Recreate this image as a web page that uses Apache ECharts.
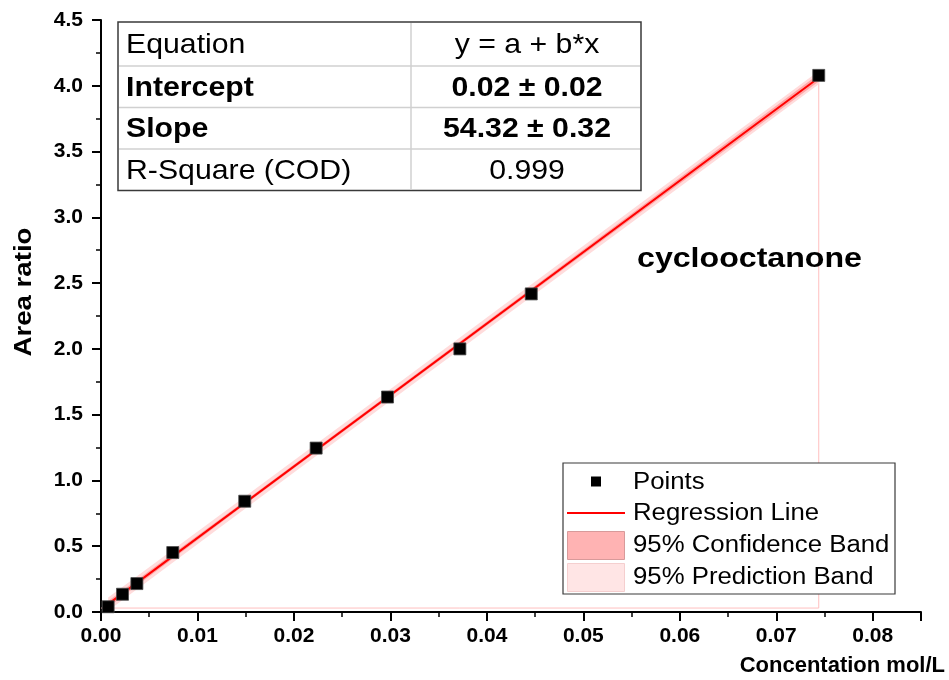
<!DOCTYPE html>
<html>
<head>
<meta charset="utf-8">
<script src="https://cdn.jsdelivr.net/npm/echarts@6/dist/echarts.min.js"></script>
<style>
  html, body { margin: 0; padding: 0; background: #ffffff; }
  #chart { width: 949px; height: 680px; }
</style>
</head>
<body>
<div id="chart"></div>
<script>
// Calibration points: concentration (mol/L) vs. peak area ratio
const concentration = [0.00074, 0.00223, 0.00372, 0.00744, 0.0149, 0.0223, 0.0297, 0.0372, 0.0446, 0.0744];
const areaRatio     = [0.04, 0.135, 0.216, 0.452, 0.842, 1.246, 1.634, 2.0, 2.418, 4.079];

// Linear fit y = a + b*x
const intercept = 0.02;
const slope = 54.32;

// Half-widths of the 95% bands (area-ratio units) at these concentrations
const bandX    = [0.00074, 0.0149, 0.0297, 0.0446, 0.0744];
const confHalf = [0.024, 0.015, 0.014, 0.016, 0.028];
const predHalf = [0.050, 0.046, 0.045, 0.046, 0.050];

// Thin outline left by the band region
const edgeX = [0.0744, 0.0744, 0];
const edgeY = [4.06, 0.03, 0.03];

// Tick labels
const xTickLabels = ['0.00', '0.01', '0.02', '0.03', '0.04', '0.05', '0.06', '0.07', '0.08'];
const yTickLabels = ['0.0', '0.5', '1.0', '1.5', '2.0', '2.5', '3.0', '3.5', '4.0', '4.5'];

// Fit summary table
const tableLabels = ['Equation', 'Intercept', 'Slope', 'R-Square (COD)'];
const tableValues = ['y = a + b*x', '0.02 \u00b1 0.02', '54.32 \u00b1 0.32', '0.999'];
const tableBold   = [false, true, true, false];

// Legend entries
const legendLabels = ['Points', 'Regression Line', '95% Confidence Band', '95% Prediction Band'];

const compoundName = 'cyclooctanone';
const xTitle = 'Concentation mol/L';
const yTitle = 'Area ratio';

const FONT = '"Liberation Sans", Arial, Helvetica, sans-serif';
const fit = x => intercept + slope * x;

function bandSeries(name, halves, fill, z) {
  return {
    name: name,
    type: 'custom',
    z: z,
    clip: true,
    silent: true,
    data: bandX.map((x, i) => [x, fit(x) - halves[i], fit(x) + halves[i]]),
    encode: { x: 0, y: [1, 2] },
    renderItem: function (params, api) {
      if (params.dataIndex !== 0) return null;
      const upper = bandX.map((x, i) => api.coord([x, fit(x) + halves[i]]));
      const lower = bandX.map((x, i) => api.coord([x, fit(x) - halves[i]])).reverse();
      return {
        type: 'polygon',
        shape: { points: upper.concat(lower) },
        style: { fill: fill, stroke: null }
      };
    }
  };
}

// Table graphics
const tLeft = 118, tRight = 641, tDivider = 411;
const rowEdges = [22, 66, 107.5, 149, 190.5];
const tableGraphics = [];
tableGraphics.push({
  type: 'rect', z: 100,
  shape: { x: tLeft, y: rowEdges[0], width: tRight - tLeft, height: rowEdges[4] - rowEdges[0] },
  style: { fill: '#ffffff', stroke: '#3a3a3a', lineWidth: 1.5 }
});
for (let i = 1; i < 4; i++) {
  tableGraphics.push({
    type: 'line', z: 101,
    shape: { x1: tLeft + 1, y1: rowEdges[i], x2: tRight - 1, y2: rowEdges[i] },
    style: { stroke: '#d0d0d0', lineWidth: 1.5 }
  });
}
tableGraphics.push({
  type: 'line', z: 101,
  shape: { x1: tDivider, y1: rowEdges[0] + 1, x2: tDivider, y2: rowEdges[4] - 1 },
  style: { stroke: '#d0d0d0', lineWidth: 1.5 }
});
tableLabels.forEach((label, i) => {
  const cy = (rowEdges[i] + rowEdges[i + 1]) / 2 + 1.5;
  const weight = tableBold[i] ? 'bold ' : '';
  tableGraphics.push({
    type: 'text', z: 102, x: tLeft + 8, y: cy, scaleX: 1.1,
    style: { text: label, font: weight + '27.5px ' + FONT, fill: '#000', textAlign: 'left', textVerticalAlign: 'middle' }
  });
  tableGraphics.push({
    type: 'text', z: 102, x: (tDivider + tRight) / 2 + 1, y: cy, scaleX: 1.1,
    style: { text: tableValues[i], font: weight + '27.5px ' + FONT, fill: '#000', textAlign: 'center', textVerticalAlign: 'middle' }
  });
});

// Legend graphics
const lgLeft = 563, lgTop = 463, lgRight = 895, lgBottom = 594;
const lgRows = [481.5, 513, 545, 576.5];
const lgTextX = 633;
const legendGraphics = [
  { type: 'rect', z: 100, shape: { x: lgLeft, y: lgTop, width: lgRight - lgLeft, height: lgBottom - lgTop },
    style: { fill: '#ffffff', stroke: '#3a3a3a', lineWidth: 1.2 } },
  { type: 'rect', z: 101, shape: { x: 591, y: lgRows[0] - 5, width: 10, height: 10 },
    style: { fill: '#000000' } },
  { type: 'line', z: 101, shape: { x1: 567, y1: lgRows[1], x2: 625, y2: lgRows[1] },
    style: { stroke: '#ff0000', lineWidth: 2 } },
  { type: 'rect', z: 101, shape: { x: 567.5, y: 531.5, width: 57, height: 28 },
    style: { fill: '#ffb3b3', stroke: '#d89a9a', lineWidth: 1 } },
  { type: 'rect', z: 101, shape: { x: 567.5, y: 563.5, width: 57, height: 28 },
    style: { fill: '#ffe5e5', stroke: '#f5cfcf', lineWidth: 1 } }
];
legendLabels.forEach((label, i) => {
  legendGraphics.push({
    type: 'text', z: 102, x: lgTextX, y: lgRows[i] + 1, scaleX: 1.12,
    style: { text: label, font: '23px ' + FONT, fill: '#000', textAlign: 'left', textVerticalAlign: 'middle' }
  });
});

const chart = echarts.init(document.getElementById('chart'), null, { renderer: 'canvas' });

chart.setOption({
  animation: false,
  backgroundColor: '#ffffff',
  grid: { left: 101, right: 28, top: 20, bottom: 68, containLabel: false },
  xAxis: {
    type: 'value',
    min: 0,
    max: 0.085,
    interval: 0.01,
    splitLine: { show: false },
    axisLine: { show: true, onZero: false, lineStyle: { color: '#000', width: 2 } },
    axisTick: { show: true, inside: false, length: 9, lineStyle: { color: '#000', width: 2 } },
    minorTick: { show: true, splitNumber: 2, length: 5, lineStyle: { color: '#000', width: 1.5 } },
    axisLabel: {
      showMaxLabel: false,
      margin: 14,
      color: '#000',
      fontFamily: FONT,
      fontWeight: 'bold',
      fontSize: 21,
      formatter: v => xTickLabels[Math.round(v / 0.01)] || ''
    }
  },
  yAxis: {
    type: 'value',
    min: 0,
    max: 4.5,
    interval: 0.5,
    splitLine: { show: false },
    axisLine: { show: true, onZero: false, lineStyle: { color: '#000', width: 2 } },
    axisTick: { show: true, inside: false, length: 9, lineStyle: { color: '#000', width: 2 } },
    minorTick: { show: true, splitNumber: 2, length: 5, lineStyle: { color: '#000', width: 1.5 } },
    axisLabel: {
      margin: 18,
      color: '#000',
      fontFamily: FONT,
      fontWeight: 'bold',
      fontSize: 21,
      formatter: v => yTickLabels[Math.round(v / 0.5)] || ''
    }
  },
  series: [
    {
      name: 'edge',
      type: 'line',
      z: 1,
      silent: true,
      symbol: 'none',
      data: edgeX.map((x, i) => [x, edgeY[i]]),
      lineStyle: { color: '#ffc0c0', width: 1 }
    },
    bandSeries('95% Prediction Band', predHalf, '#ffdcdc', 2),
    bandSeries('95% Confidence Band', confHalf, '#ffa8a8', 3),
    {
      name: 'Regression Line',
      type: 'line',
      z: 4,
      silent: true,
      symbol: 'none',
      data: [concentration[0], concentration[concentration.length - 1]].map(x => [x, fit(x)]),
      lineStyle: { color: '#ff0000', width: 2 }
    },
    {
      name: 'Points',
      type: 'scatter',
      z: 5,
      symbol: 'rect',
      symbolSize: 12,
      data: concentration.map((x, i) => [x, areaRatio[i]]),
      itemStyle: { color: '#000000', borderColor: '#4a4a4a', borderWidth: 0.8, opacity: 1 }
    }
  ],
  graphic: [
    ...tableGraphics,
    ...legendGraphics,
    {
      type: 'text', z: 102, x: 749.5, y: 260, scaleX: 1.19,
      style: { text: compoundName, font: 'bold 27px ' + FONT, fill: '#000', textAlign: 'center', textVerticalAlign: 'middle' }
    },
    {
      type: 'text', z: 102, x: 945, y: 666,
      style: { text: xTitle, font: 'bold 22px ' + FONT, fill: '#000', textAlign: 'right', textVerticalAlign: 'middle' }
    },
    {
      type: 'text', z: 102, x: 24, y: 292, rotation: Math.PI / 2, scaleX: 1.15,
      style: { text: yTitle, font: 'bold 24px ' + FONT, fill: '#000', textAlign: 'center', textVerticalAlign: 'middle' }
    }
  ]
});
</script>
</body>
</html>
